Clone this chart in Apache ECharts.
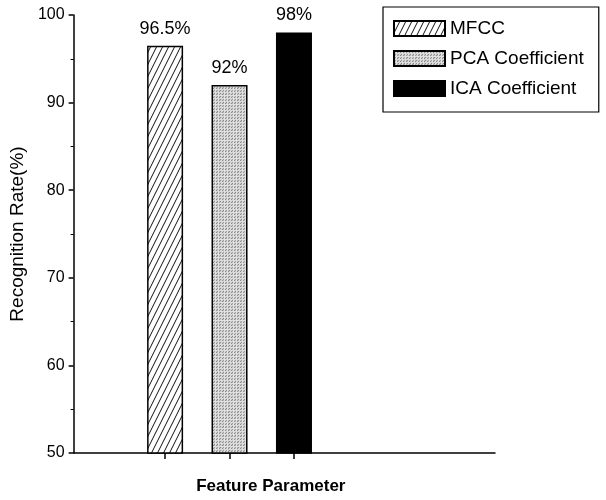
<!DOCTYPE html>
<html>
<head>
<meta charset="utf-8">
<script src="https://cdn.jsdelivr.net/npm/echarts@6/dist/echarts.min.js"></script>
<style>html,body{margin:0;padding:0;background:#fff;}#c{width:606px;height:500px;}</style>
</head>
<body>
<div id="c"></div>
<script>
// ---- data ----
const categories = ['MFCC', 'PCA Coefficient', 'ICA Coefficient'];
const positions = [1, 2, 3];
const values = [96.5, 92, 98];
const yTicks = [50, 60, 70, 80, 90, 100];

// ---- fill patterns ----
function hatchPattern() {
  const c = document.createElement('canvas');
  c.width = 6; c.height = 12;
  const g = c.getContext('2d');
  g.fillStyle = '#fff'; g.fillRect(0, 0, 6, 12);
  g.strokeStyle = '#111'; g.lineWidth = 1;
  [[-6, 0], [0, 0], [6, 0]].forEach(([dx]) => {
    g.beginPath(); g.moveTo(dx, 12); g.lineTo(dx + 6, 0); g.stroke();
  });
  return c;
}
function stipplePattern() {
  const c = document.createElement('canvas');
  c.width = 9; c.height = 9;
  const g = c.getContext('2d');
  for (let x = 0; x < 9; x++) for (let y = 0; y < 9; y++) {
    const k = (x * 7 + y * 4 + x * y) % 6;
    const v = [200, 160, 225, 185, 140, 210][k];
    g.fillStyle = 'rgb(' + v + ',' + v + ',' + v + ')';
    g.fillRect(x, y, 1, 1);
  }
  return c;
}
const fills = [
  { image: hatchPattern(), repeat: 'repeat' },
  { image: stipplePattern(), repeat: 'repeat' },
  '#000'
];

const FONT = 'Liberation Sans, Arial, sans-serif';
const chart = echarts.init(document.getElementById('c'));

const series = categories.map((name, i) => ({
  name: name,
  type: 'bar',
  barWidth: 36,
  barGap: '-100%',
  data: [[positions[i], values[i]]],
  itemStyle: { color: fills[i], borderColor: '#000', borderWidth: 1.5 },
  label: {
    show: true, position: 'top', distance: 8,
    fontFamily: FONT, fontSize: 18, color: '#000',
    formatter: p => p.value[1] + '%'
  }
}));

chart.setOption({
  animation: false,
  backgroundColor: '#fff',
  grid: { left: 72, right: 111, top: 15, bottom: 46, containLabel: false },
  legend: {
    orient: 'vertical', left: 383, top: 7,
    padding: [12, 15, 14, 10],
    itemWidth: 51, itemHeight: 15, itemGap: 11,
    borderColor: '#000', borderWidth: 1.2,
    textStyle: { fontFamily: FONT, fontSize: 19, color: '#000' },
    icon: 'rect',
    data: categories
  },
  xAxis: {
    type: 'value', min: -0.42, max: 6.12,
    name: 'Feature Parameter', nameLocation: 'middle', nameGap: 25,
    nameTextStyle: { fontFamily: FONT, fontSize: 17, fontWeight: 'bold', color: '#000', padding: [0, 27, 0, 0] },
    axisLine: { show: true, onZero: false, lineStyle: { color: '#000', width: 1.5 } },
    axisTick: { show: true, customValues: positions, length: 6, lineStyle: { color: '#000', width: 1.5 } },
    axisLabel: { show: false },
    splitLine: { show: false }
  },
  yAxis: {
    type: 'value', min: 50, max: 100, interval: 10,
    name: 'Recognition Rate(%)', nameLocation: 'middle', nameGap: 46,
    nameTextStyle: { fontFamily: FONT, fontSize: 19, color: '#000' },
    axisLine: { show: true, onZero: false, lineStyle: { color: '#000', width: 1.5 } },
    axisTick: { show: true, length: 5, lineStyle: { color: '#000', width: 1.5 } },
    minorTick: { show: true, splitNumber: 2, length: 3, lineStyle: { color: '#000', width: 1 } },
    axisLabel: { fontFamily: FONT, fontSize: 16, color: '#000', margin: 9,
      customValues: yTicks },
    splitLine: { show: false }
  },
  series: series
});
</script>
</body>
</html>
